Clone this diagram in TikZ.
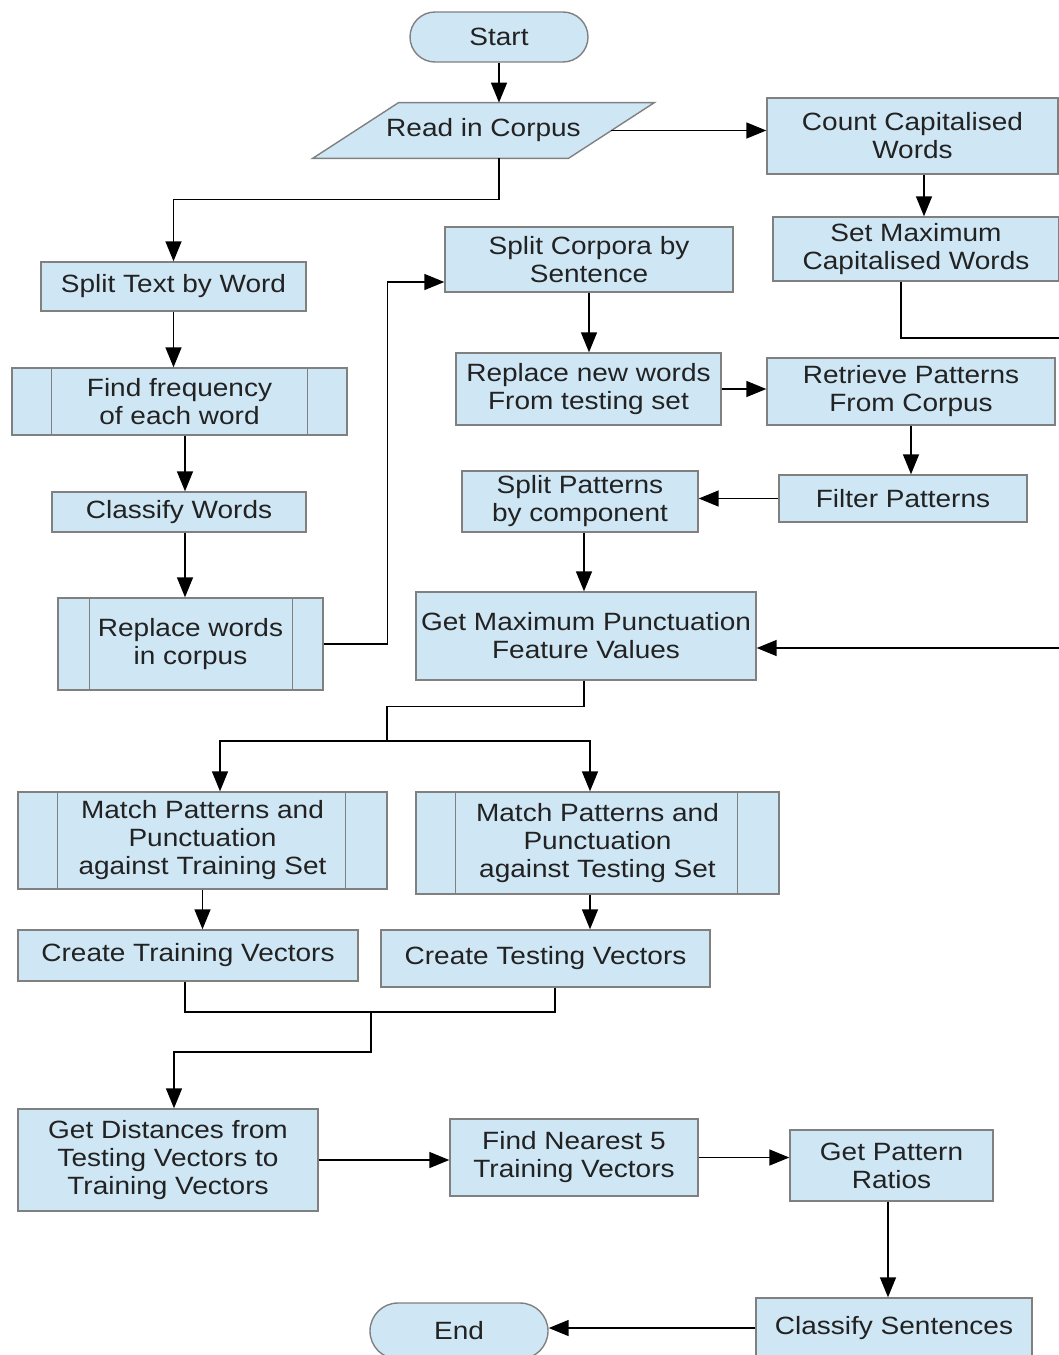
\documentclass[tikz,border=0pt]{standalone}
\usepackage{fontspec}
\setmainfont[FakeStretch=1.12]{Liberation Sans}
\usetikzlibrary{arrows.meta,calc,backgrounds}
\definecolor{boxfill}{HTML}{CFE7F5}
\definecolor{boxgray}{HTML}{808080}
\definecolor{txt}{HTML}{222222}
\newcommand\fsz{\fontsize{12.5}{14}\selectfont}
\newcommand\subbars[3]{%
  \draw[subbar] ([xshift=#2]#1.north west) -- ([xshift=#2]#1.south west);
  \draw[subbar] ([xshift=-#3]#1.north east) -- ([xshift=-#3]#1.south east);}
\tikzset{
  shapestyle/.style={draw=boxgray, fill=boxfill, line width=0.7pt},
  procbox/.style={shapestyle, rectangle, align=center, inner sep=0pt, text=txt, font=\fsz},
  termbox/.style={procbox, rounded corners=12.5pt},
  subbar/.style={draw=boxgray, line width=0.7pt},
  conn/.style={line width=0.75pt, black},
  arrc/.style={conn, -{Triangle[length=10pt,width=8pt]}},
}
\begin{document}
\begin{tikzpicture}[x=0.5pt,y=-0.5pt]
\useasboundingbox (0,0) rectangle (1059,1355);
\clip (0,0) rectangle (1059,1355);

% nodes
\node[termbox, minimum width=89pt, minimum height=25pt] (start) at (499,37) {Start};
\node[align=center, inner sep=0pt, text=txt, font=\fsz, minimum width=127.5pt, minimum height=27.5pt] (read) at (483.5,130.5) {Read in Corpus};
\begin{scope}[on background layer]
\draw[shapestyle] ([xshift=-21.5pt]read.south west) -- ([xshift=21.5pt]read.north west) -- ([xshift=21.5pt]read.north east) -- ([xshift=-21.5pt]read.south east) -- cycle;
\end{scope}
\node[procbox, minimum width=145.5pt, minimum height=38pt] (count) at (912.5,136) {Count Capitalised\\Words};
\node[procbox, minimum width=143pt, minimum height=32pt] (setmax) at (916,249) {Set Maximum\\Capitalised Words};
\node[procbox, minimum width=132.5pt, minimum height=24.5pt] (splittext) at (173.5,286.5) {Split Text by Word};
\node[procbox, minimum width=167.5pt, minimum height=33.5pt] (freq) at (179.5,401.5) {Find frequency\\of each word};
\node[procbox, minimum width=127pt, minimum height=20pt] (classw) at (179,512) {Classify Words};
\node[procbox, minimum width=132.5pt, minimum height=46pt] (replw) at (190.5,644) {Replace words\\in corpus};
\node[procbox, minimum width=144pt, minimum height=32.5pt] (splitc) at (589,259.5) {Split Corpora by\\Sentence};
\node[procbox, minimum width=132.5pt, minimum height=36pt] (repln) at (588.5,389) {Replace new words\\From testing set};
\node[procbox, minimum width=144pt, minimum height=33.5pt] (retr) at (911,391.5) {Retrieve Patterns\\From Corpus};
\node[procbox, minimum width=124pt, minimum height=23.5pt] (filt) at (903,498.5) {Filter Patterns};
\node[procbox, minimum width=118pt, minimum height=30.5pt] (splitp) at (580,501.5) {Split Patterns\\by component};
\node[procbox, minimum width=170pt, minimum height=44pt] (getmax) at (586,636) {Get Maximum Punctuation\\Feature Values};
\node[procbox, minimum width=184.5pt, minimum height=48.5pt] (mtrain) at (202.5,840.5) {Match Patterns and\\Punctuation\\against Training Set};
\node[procbox, minimum width=181.5pt, minimum height=51pt] (mtest) at (597.5,843) {Match Patterns and\\Punctuation\\against Testing Set};
\node[procbox, minimum width=170pt, minimum height=25.5pt] (ctrain) at (188,955.5) {Create Training Vectors};
\node[procbox, minimum width=164.5pt, minimum height=28.5pt] (ctest) at (545.5,958.5) {Create Testing Vectors};
\node[procbox, minimum width=150pt, minimum height=51pt] (dist) at (168,1160) {Get Distances from\\Testing Vectors to\\Training Vectors};
\node[procbox, minimum width=124pt, minimum height=38.5pt] (near) at (574,1157.5) {Find Nearest 5\\Training Vectors};
\node[procbox, minimum width=101.5pt, minimum height=35.5pt] (ratio) at (891.5,1165.5) {Get Pattern\\Ratios};
\node[procbox, minimum width=138pt, minimum height=30pt] (clss) at (894,1328) {Classify Sentences};
\node[termbox, rounded corners=14pt, minimum width=89pt, minimum height=28pt] (end) at (459,1331) {End};

% subroutine bars
\subbars{freq}{20pt}{20pt}
\subbars{replw}{16pt}{15.5pt}
\subbars{mtrain}{20pt}{21pt}
\subbars{mtest}{20pt}{21pt}

% connectors
\draw[arrc] (start.south) -- (start.south |- read.north);
\draw[arrc] (read.east) -- (read.east -| count.west);
\draw[arrc] ([xshift=5.75pt]count.south) -- ([xshift=5.75pt]count.south |- setmax.north);
\coordinate (ra) at (1059,338);
\draw[conn] ([xshift=-7.5pt]setmax.south) |- (ra);
\draw[arrc] (start.south |- read.south) -- ++(0,41) -| (splittext.north);
\draw[arrc] (splittext.south) -- (splittext.south |- freq.north);
\draw[arrc] ([xshift=2.75pt]freq.south) -- ([xshift=2.75pt]freq.south |- classw.north);
\draw[arrc] ([xshift=3pt]classw.south) -- ([xshift=3pt]classw.south |- replw.north);
\draw[arrc] (replw.east) -- ++(64,0) |- ([yshift=-11.25pt]splitc.west);
\draw[arrc] (splitc.south) -- (splitc.south |- repln.north);
\draw[arrc] (repln.east) -- (repln.east -| retr.west);
\draw[arrc] (retr.south) -- (retr.south |- filt.north);
\draw[arrc] (filt.west) -- (filt.west -| splitp.east);
\draw[arrc] ([xshift=2pt]splitp.south) -- ([xshift=2pt]splitp.south |- getmax.north);
\coordinate (rb) at (1059,648);
\draw[arrc] (rb) -- (rb -| getmax.east);
\coordinate (br) at (387,741);
\draw[conn] ([xshift=-1pt]getmax.south) -- ++(0,26) -| (br);
\draw[arrc] (br) -| ([xshift=8.75pt]mtrain.north);
\draw[arrc] (br) -| ([xshift=-3.75pt]mtest.north);
\draw[arrc] (mtrain.south) -- (mtrain.south |- ctrain.north);
\draw[arrc] ([xshift=-3.75pt]mtest.south) -- ([xshift=-3.75pt]mtest.south |- ctest.north);
\coordinate (mg) at (371,1012);
\draw[conn] ([xshift=-1.5pt]ctrain.south) |- (mg) -| ([xshift=4.75pt]ctest.south);
\draw[arrc] (mg) -- ++(0,40) -| ([xshift=3pt]dist.north);
\draw[arrc] (dist.east) -- (dist.east -| near.west);
\draw[arrc] (near.east) -- (near.east -| ratio.west);
\draw[arrc] ([xshift=-1.75pt]ratio.south) -- ([xshift=-1.75pt]ratio.south |- clss.north);
\draw[arrc] (clss.west) -- (clss.west -| end.east);
\end{tikzpicture}
\end{document}
